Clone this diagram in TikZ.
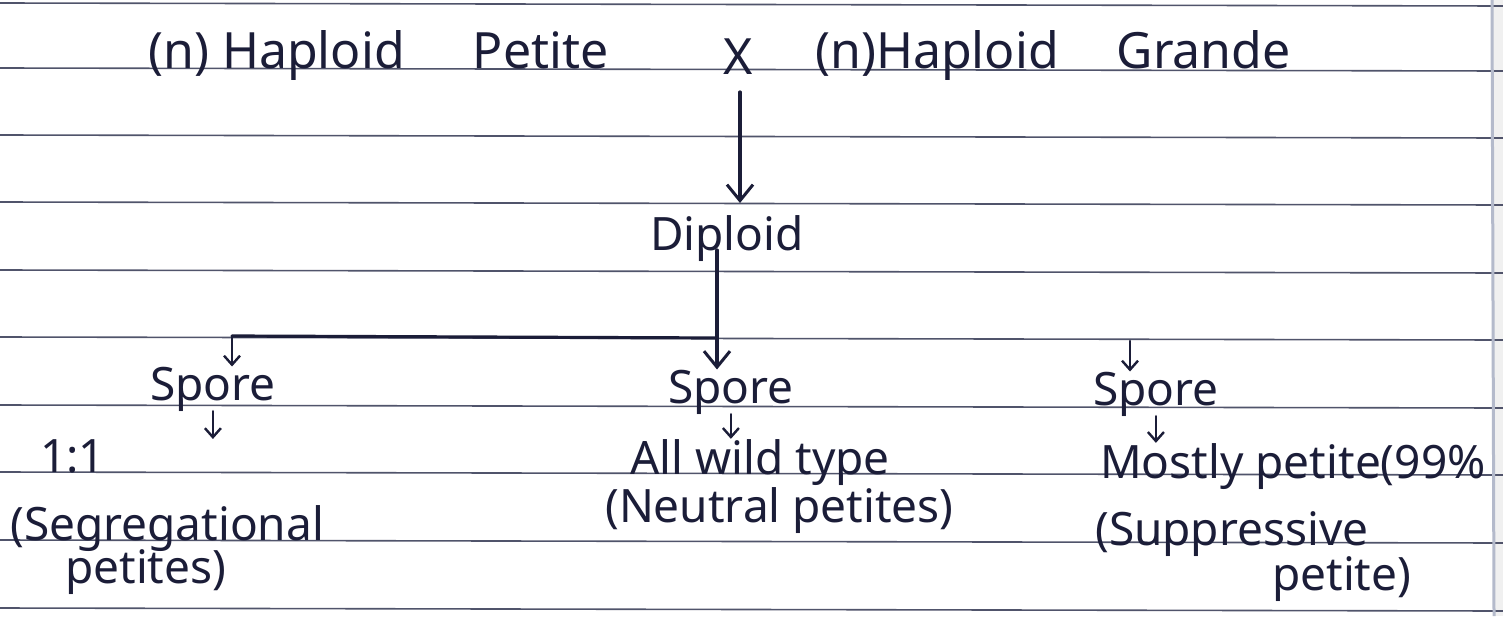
\documentclass[tikz,border=0pt]{standalone}
\usepackage{fontspec}
\setmainfont{Noto Sans}
\usetikzlibrary{arrows.meta}
\definecolor{ink}{HTML}{1B1D38}
\definecolor{rulecol}{HTML}{50546B}
\definecolor{margincol}{HTML}{B4BACB}
\begin{document}
\begin{tikzpicture}[x=1pt,y=-1pt,
  hw/.style={anchor=base west, inner sep=0pt, text=ink, font=\fontsize{46}{54}\selectfont},
  big/.style={hw, font=\fontsize{50}{58}\selectfont},
  pen/.style={draw=ink, line width=3.2pt, line cap=round},
  flow/.style={pen, -{Straight Barb[length=16pt,width=26pt,line width=3pt]}},
  tick/.style={pen, line width=2.6pt, -{Straight Barb[length=9pt,width=16pt,line width=2.4pt]}},
  ruled/.style={draw=rulecol, line width=1.6pt}]

% paper
\useasboundingbox (0,0) rectangle (1503,616);
\fill[white] (0,0) rectangle (1503,616);
\fill[black!6] (1493,0) rectangle (1503,616);
\foreach \ry in {3,68,135,202,270,337,405,472,540,608}
  \draw[ruled] (0,\ry) -- (1503,\ry+3);
\draw[draw=margincol, line width=3pt] (1492,0) -- (1494,616);

% parents
\node[big] (hp) at (148,68) {(n) Haploid\hspace{55pt} Petite};
\node[hw, font=\fontsize{50}{58}\selectfont]  (cross) at (723,74) {X};
\node[big] (hg) at (815,68) {(n)Haploid\hspace{45pt} Grande};

% diploid
\node[hw] (dip) at (650,250) {Diploid};
\coordinate (xs) at (740,92);
\coordinate (xe) at (740,203);
\draw[flow] (xs) -- (xe);

% spores
\node[hw] (sp1) at (150,400) {Spore};
\node[hw] (sp2) at (668,403) {Spore};
\node[hw] (sp3) at (1093,405) {Spore};

\coordinate (dj) at (717,338);
\coordinate (bl) at (232,336);
\coordinate (br) at (1130,341);
\draw[flow] (dip.base -| dj) -- (dj |- sp2.north);
\draw[pen] (dj) -- (bl);
\draw[tick] (bl) -- (bl |- sp1.north);
\draw[tick] (br) -- (br |- sp3.north);

% outcomes
\node[hw] (r1)  at (40,472)  {1:1};
\node[hw] (r1b) at (10,540)  {(Segregational};
\node[hw] (r1c) at (65,583)  {petites)};

\node[hw] (r2)  at (630,474) {All wild type};
\node[hw] (r2b) at (605,522) {(Neutral petites)};

\node[hw] (r3)  at (1100,478) {Mostly petite(99\%};
\node[hw] (r3b) at (1095,545) {(Suppressive};
\node[hw] (r3c) at (1272,590) {petite)};

\draw[tick] (sp1.south) -- (sp1.south |- r1.north);
\draw[tick] (sp2.south) -- (sp2.south |- r2.north);
\draw[tick] (sp3.south) -- (sp3.south |- r3.north);
\end{tikzpicture}
\end{document}
